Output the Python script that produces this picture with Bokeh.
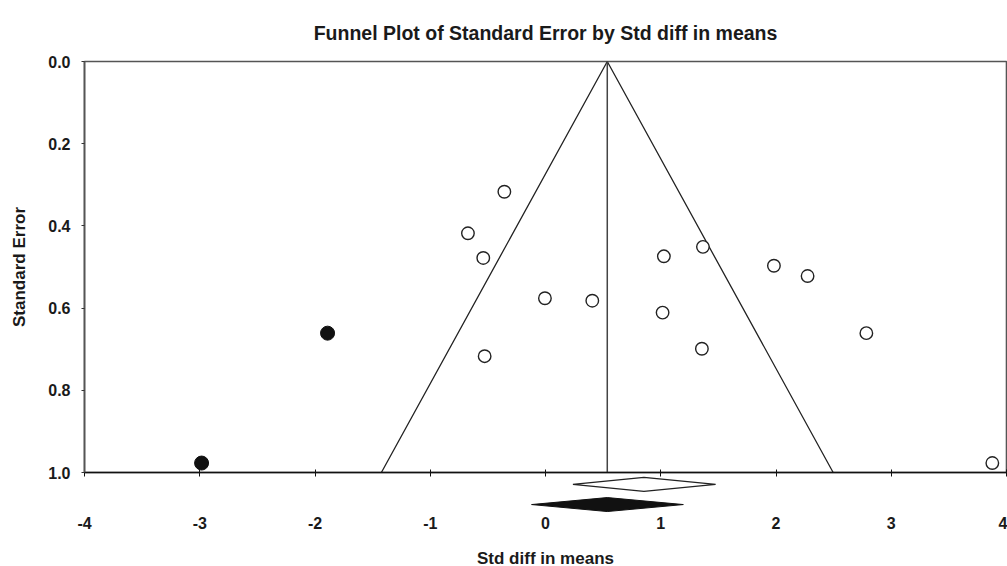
from bokeh.plotting import figure
from bokeh.models import Range1d, FixedTicker, CustomJSTickFormatter
from bokeh.embed import file_html
from bokeh.resources import INLINE

# ---- data ----
study_x = [-0.357, -0.673, -0.540, -0.005, 0.406, -0.528, 1.027, 1.366,
           1.982, 2.274, 1.016, 1.357, 2.784, 3.877]
study_se = [0.317, 0.418, 0.478, 0.576, 0.582, 0.717, 0.474, 0.451,
            0.497, 0.522, 0.611, 0.699, 0.661, 0.977]
imputed_x = [-2.984, -1.891]
imputed_se = [0.977, 0.661]

observed = [0.238, 0.854, 1.476]   # lower, mean, upper
adjusted = [-0.121, 0.536, 1.196]  # lower, mean, upper

x_ticks = [-4, -3, -2, -1, 0, 1, 2, 3, 4]
y_ticks = [0.0, 0.2, 0.4, 0.6, 0.8, 1.0]
se_max = 1.0
z = 1.96

# ---- layout constants ----
diamond_rows = [1.029, 1.078]
diamond_half = 0.017
FONT = "Liberation Sans"

p = figure(frame_width=922, frame_height=411,
           min_border_left=84, min_border_right=1, min_border_top=61, min_border_bottom=94,
           x_range=Range1d(-4, 4), y_range=Range1d(1.0, 0.0),
           output_backend="svg", toolbar_location=None,
           title="Funnel Plot of Standard Error by Std diff in means")

p.title.text_font = FONT
p.title.text_font_size = "19.5px"
p.title.text_font_style = "bold"
p.title.align = "center"
p.title.text_color = "#1a1a1a"
p.title.standoff = 36

p.grid.visible = False
p.outline_line_color = "#555555"
p.outline_line_width = 1.6
p.background_fill_color = "white"
p.border_fill_color = "white"

# axes
for ax in (p.xaxis[0], p.yaxis[0]):
    ax.major_label_text_font = FONT
    ax.major_label_text_font_style = "bold"
    ax.major_label_text_font_size = "16px"
    ax.major_label_text_color = "#1a1a1a"
    ax.axis_label_text_font = FONT
    ax.axis_label_text_font_style = "bold"
    ax.axis_label_text_font_size = "17px"
    ax.axis_label_text_color = "#1a1a1a"
    ax.minor_tick_line_color = None

p.xaxis.ticker = FixedTicker(ticks=x_ticks)
p.xaxis.formatter = CustomJSTickFormatter(code="return String(tick);")
p.xaxis.axis_label = "Std diff in means"
p.xaxis.axis_line_color = "#111111"
p.xaxis.axis_line_width = 1.6
p.xaxis.major_tick_in = 3
p.xaxis.major_tick_out = 4
p.xaxis.major_tick_line_color = "#111111"
p.xaxis.major_label_standoff = 40
p.xaxis.axis_label_standoff = 17

p.yaxis.ticker = FixedTicker(ticks=y_ticks)
p.yaxis.formatter = CustomJSTickFormatter(code="return tick.toFixed(1);")
p.yaxis.axis_label = "Standard Error"
p.yaxis.axis_line_color = "#555555"
p.yaxis.axis_line_width = 1.6
p.yaxis.major_tick_in = 0
p.yaxis.major_tick_out = 3
p.yaxis.major_tick_line_color = "#333333"
p.yaxis.major_label_standoff = 11
p.yaxis.axis_label_standoff = 16

# funnel
m = adjusted[1]
p.line([m - z * se_max, m, m + z * se_max], [se_max, 0, se_max],
       line_color="#222222", line_width=1.3)
p.line([m, m], [0, se_max], line_color="#444444", line_width=1.5)

# studies
p.scatter(study_x, study_se, size=12.5, marker="circle",
          fill_color="white", line_color="#222222", line_width=1.4)
p.scatter(imputed_x, imputed_se, size=14, marker="circle",
          fill_color="#111111", line_color="#111111", line_width=1)

# summary diamonds (below the frame)
def diamond(lo, mid, hi, y):
    return [lo, mid, hi, mid], [y, y - diamond_half, y, y + diamond_half]

ox, oy = diamond(observed[0], observed[1], observed[2], diamond_rows[0])
dx, dy = diamond(adjusted[0], adjusted[1], adjusted[2], diamond_rows[1])
p.patch(ox, oy, fill_color="white", line_color="#222222", line_width=1.3, level="overlay")
p.patch(dx, dy, fill_color="#111111", line_color="#111111", line_width=1, level="overlay")

open("out.html", "w").write(file_html(p, INLINE))
